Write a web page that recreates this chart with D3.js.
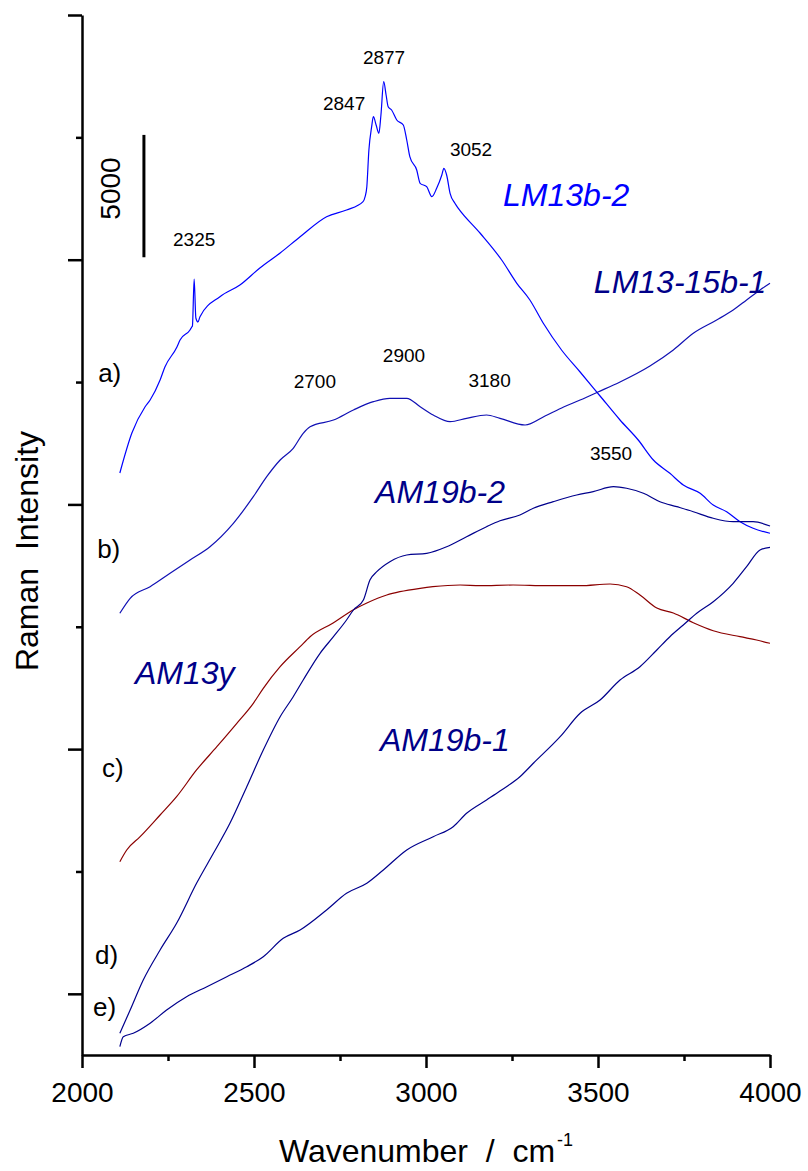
<!DOCTYPE html>
<html>
<head>
<meta charset="utf-8">
<script src="https://cdn.jsdelivr.net/npm/d3@7"></script>
<style>
body { margin:0; background:#fff; }
svg { display:block; font-family: Arial, "Liberation Sans", sans-serif; }
</style>
</head>
<body>
<svg width="808" height="1171"></svg>
<script>
/*
DATI (numero d'onda cm-1, intensita' con offset)
*/
// a) LM13b-2
var spettroA = [[2110,21284],[2145,22918],[2183,23981],[2198,24267],[2227,25084],[2241,25616],[2276,26433],[2285,26719],
	[2314,27128],[2319,27250],[2321,27291],[2326,29212],[2331,27618],[2337,27454],[2343,27671],[2401,28489],[2459,28966],
	[2517,29661],[2576,30274],[2634,30940],[2711,31758],[2769,32031],[2817,32371],[2823,32575],[2828,32984],[2834,34483],
	[2842,35435],[2847,35844],[2855,35505],[2863,35166],[2869,35914],[2877,37274],[2884,36731],[2890,36253],[2900,36118],
	[2915,35709],[2934,35505],[2944,34892],[2953,34209],[2973,33666],[2983,33122],[3002,32984],[3017,32575],[3031,32918],
	[3046,33462],[3052,33735],[3060,33462],[3070,32714],[3084,32305],[3094,32101],[3157,31091],[3220,29988],[3264,29036],
	[3302,28353],[3341,27401],[3394,26310],[3448,25411],[3506,24430],[3564,23450],[3617,22632],[3661,21815],[3709,21271],
	[3748,20793],[3797,20454],[3835,19976],[3874,19702],[3913,19294],[3951,19024],[4000,18820]];
// b) LM13-15b-1
var spettroB = [[2110,15550],[2140,16163],[2198,16637],[2256,17185],[2314,17729],[2372,18272],[2440,19228],[2498,20315],
	[2537,21133],[2576,21815],[2614,22293],[2643,22906],[2663,23176],[2731,23450],[2789,23858],[2847,24198],[2895,24337],
	[2944,24337],[2983,23993],[3021,23654],[3070,23380],[3118,23519],[3176,23654],[3215,23519],[3288,23245],[3346,23613],
	[3400,23981],[3448,24267],[3500,24594],[3564,25003],[3651,25656],[3719,26310],[3777,26993],[3845,27536],[3893,27945],
	[3932,28353],[3971,28762],[4000,29036]];
// c) AM13y
var spettroC = [[2110,5400],[2130,5878],[2169,6421],[2227,7308],[2275,8056],[2333,9147],[2392,10099],[2450,11055],
	[2498,11873],[2527,12486],[2576,13368],[2634,14186],[2663,14594],[2730,15154],[2788,15685],[2828,15971],[2886,16298],
	[2924,16433],[2983,16572],[3020,16637],[3099,16707],[3157,16678],[3253,16707],[3351,16678],[3448,16678],[3535,16748],
	[3583,16637],[3622,16298],[3671,15767],[3719,15563],[3777,15166],[3835,14839],[3913,14594],[3961,14459],[4000,14325]];
// d) AM19b-2
var spettroD = [[2110,-1613],[2140,-661],[2178,565],[2227,1791],[2275,2882],[2333,4517],[2382,5743],[2430,6969],
	[2479,8464],[2527,9964],[2576,11325],[2614,12142],[2643,12825],[2692,13916],[2731,14594],[2769,15277],[2789,15685],
	[2818,16094],[2837,16911],[2857,17250],[2895,17659],[2944,17933],[3002,18002],[3060,18272],[3118,18681],[3176,19089],
	[3215,19330],[3273,19567],[3312,19841],[3370,20111],[3438,20385],[3486,20520],[3545,20724],[3583,20659],[3632,20454],
	[3680,20111],[3729,19907],[3777,19702],[3835,19433],[3893,19294],[3951,19294],[4000,19118]];
// e) AM19b-1
var spettroE = [[2110,-2160],[2120,-1752],[2149,-1613],[2198,-1204],[2246,-661],[2304,-117],[2363,292],[2421,700],
	[2479,1109],[2527,1517],[2585,2269],[2634,2608],[2711,3426],[2769,4108],[2828,4517],[2876,5060],[2944,5878],[3021,6421],
	[3079,6830],[3118,7377],[3176,7921],[3215,8289],[3273,8873],[3312,9421],[3390,10508],[3448,11464],[3506,12007],
	[3564,12825],[3622,13368],[3671,14051],[3709,14594],[3748,15072],[3787,15550],[3835,16024],[3893,16776],[3932,17455],
	[3971,18137],[4000,18248]];

var nomiCampioni = ["LM13b-2","LM13-15b-1","AM13y","AM19b-2","AM19b-1"];
var lettere = ["a)","b)","c)","d)","e)"];
var picchi = ["2325","2847","2877","3052","2700","2900","3180","3550"];
var xTicks = [2000,2500,3000,3500,4000];
var xTicksMinori = [2250,2750,3250,3750];
var yTicks = [0,10000,20000,30000,40000];
var yTicksMinori = [5000,15000,25000,35000];
var barraScala = 5000;

/*
SCALE
*/
var svg = d3.select("svg");
var x = d3.scaleLinear().domain([2000, 4000]).range([82, 770]);
var y = d3.scaleLinear().domain([-2500, 40000]).range([1055, 15]);

var linea = d3.line()
	.curve(d3.curveMonotoneX)
	.x(function(d){ return x(d[0]) })
	.y(function(d){ return y(d[1]) });

//spettri
var serie = [
	{dati: spettroA, colore: "#0000ff"},
	{dati: spettroB, colore: "#1010b4"},
	{dati: spettroC, colore: "#8b0000"},
	{dati: spettroD, colore: "#00008c"},
	{dati: spettroE, colore: "#00008c"}
];
svg.append("g").selectAll("path")
	.data(serie)
	.enter().append("path")
	.attr("d", function(d){ return linea(d.dati) })
	.attr("fill", "none")
	.attr("stroke", function(d){ return d.colore })
	.attr("stroke-width", 1.2)
	.attr("stroke-linejoin", "round");

/*
ASSI
*/
var assex = svg.append("g").attr("transform", "translate(0,1055)")
	.call(d3.axisBottom(x).tickValues(xTicks).tickSize(13).tickSizeOuter(0).tickPadding(14).tickFormat(d3.format("d")));
assex.selectAll("text").attr("font-size", 28).attr("font-family", "Arial, 'Liberation Sans', sans-serif").attr("fill", "#000");
svg.append("g").attr("transform", "translate(0,1055)")
	.call(d3.axisBottom(x).tickValues(xTicksMinori).tickSize(6).tickSizeOuter(0).tickFormat(""))
	.select(".domain").remove();

svg.append("g").attr("transform", "translate(82,0)")
	.call(d3.axisLeft(y).tickValues(yTicks).tickSize(14).tickSizeOuter(0).tickFormat(""));
svg.append("g").attr("transform", "translate(82,0)")
	.call(d3.axisLeft(y).tickValues(yTicksMinori).tickSize(6).tickSizeOuter(0).tickFormat(""))
	.select(".domain").remove();

svg.selectAll(".domain, .tick line")
	.attr("stroke", "#000")
	.attr("stroke-width", 2.5);

//titoli assi
var titoloX = svg.append("text")
	.attr("x", (x(2000)+x(4000))/2)
	.attr("y", 1162)
	.attr("text-anchor", "middle")
	.attr("font-size", 32)
	.style("white-space", "pre");
titoloX.append("tspan").text("Wavenumber  /  cm");
titoloX.append("tspan").attr("dy", -16).attr("dx", 2).attr("font-size", 18).text("-1");

svg.append("text")
	.attr("transform", "translate(38,551) rotate(-90)")
	.attr("text-anchor", "middle")
	.attr("font-size", 32)
	.style("white-space", "pre")
	.text("Raman  Intensity");

/*
BARRA DI SCALA
*/
var baseBarra = 30100;
svg.append("line")
	.attr("x1", x(2180)).attr("x2", x(2180))
	.attr("y1", y(baseBarra)).attr("y2", y(baseBarra+barraScala))
	.attr("stroke", "#000")
	.attr("stroke-width", 3);
svg.append("text")
	.attr("transform", "translate(" + x(2110) + "," + y(32910) + ") rotate(-90)")
	.attr("text-anchor", "middle")
	.attr("font-size", 28)
	.text(barraScala);

/*
ETICHETTE
*/
//numeri dei picchi (centro, linea di base)
var posPicchi = [[2326,30560],[2762,36118],[2878,37998],[3131,34238],[2677,24757],[2936,25820],[3185,24798],[3538,21815]];
svg.append("g").selectAll("text")
	.data(picchi)
	.enter().append("text")
	.attr("x", function(d,i){ return x(posPicchi[i][0]) })
	.attr("y", function(d,i){ return y(posPicchi[i][1]) })
	.attr("text-anchor", "middle")
	.attr("font-size", 19)
	.text(function(d){ return d });

//nomi campioni
var posNomi = [[3224,32195],[3488,28640],[2154,12661],[2852,20058],[2866,9923]];
var coloriNomi = ["#0000ff","#000088","#000088","#000088","#000088"];
svg.append("g").selectAll("text")
	.data(nomiCampioni)
	.enter().append("text")
	.attr("x", function(d,i){ return x(posNomi[i][0]) })
	.attr("y", function(d,i){ return y(posNomi[i][1]) })
	.attr("font-size", 32)
	.attr("font-style", "italic")
	.attr("fill", function(d,i){ return coloriNomi[i] })
	.text(function(d){ return d });

//lettere a) ... e)
var posLettere = [[2047,25003],[2044,17810],[2058,8861],[2038,1219],[2032,-906]];
svg.append("g").selectAll("text")
	.data(lettere)
	.enter().append("text")
	.attr("x", function(d,i){ return x(posLettere[i][0]) })
	.attr("y", function(d,i){ return y(posLettere[i][1]) })
	.attr("font-size", 26)
	.text(function(d){ return d });
</script>
</body>
</html>
